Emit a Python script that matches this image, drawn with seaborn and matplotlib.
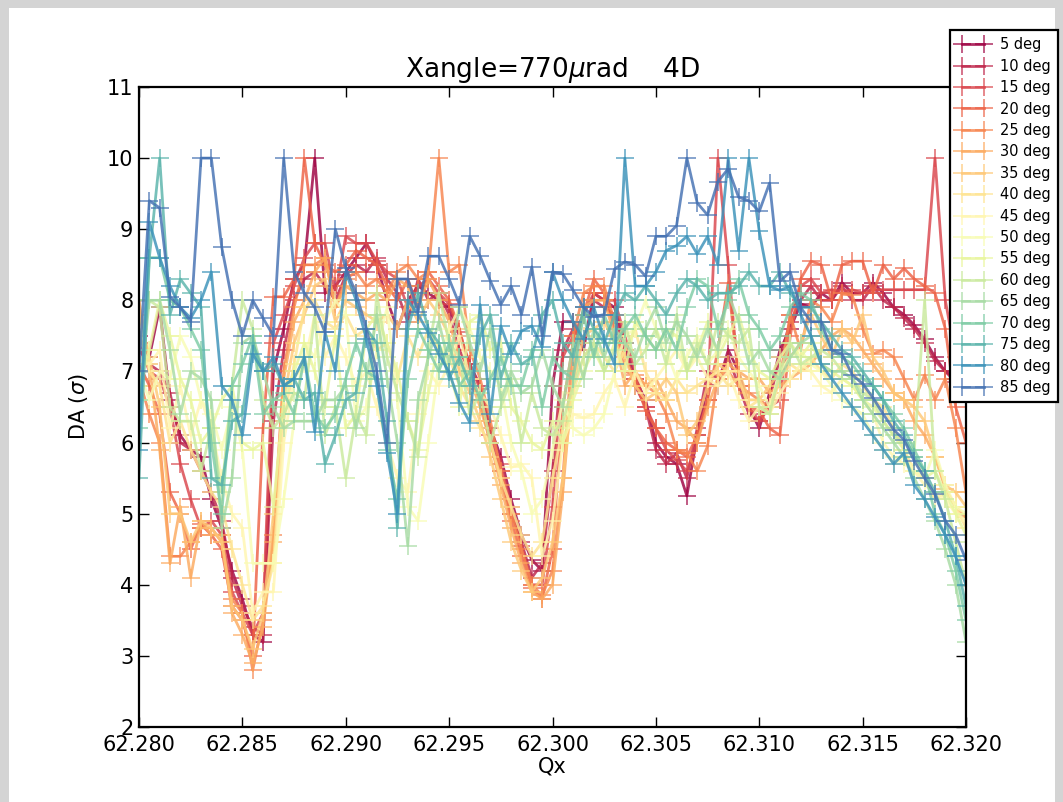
import matplotlib
matplotlib.use("Agg")
import matplotlib.pyplot as plt
import seaborn as sns
from matplotlib.patches import Rectangle

# Tune scan grid (Qx) and crossing-angle labels
qx_start = 62.280
qx_step = 0.0005
n_points = 81
qx = [round(qx_start + qx_step * i, 4) for i in range(n_points)]

angles = [5, 10, 15, 20, 25, 30, 35, 40, 45, 50, 55, 60, 65, 70, 75, 80, 85]

# Dynamic aperture (sigma) for each angle along the Qx scan
da_5 = [7.5, 7.2, 7.9, 6.6, 6.1, 5.9, 5.8, 5.2, 4.8, 4.2,
        3.8, 3.3, 3.2, 7.0, 7.6, 8.3, 8.5, 10.0, 8.1, 8.2,
        8.4, 8.6, 8.8, 8.5, 8.0, 7.6, 8.0, 8.2, 8.1, 8.0,
        7.9, 7.5, 7.1, 6.8, 6.2, 5.8, 5.2, 4.7, 4.35, 4.2,
        6.8, 7.7, 7.7, 7.3, 8.1, 8.0, 7.9, 7.4, 6.9, 6.6,
        6.0, 5.8, 5.7, 5.25, 6.1, 6.8, 6.8, 7.3, 7.0, 6.5,
        6.2, 6.7, 7.3, 7.6, 7.95, 7.9, 8.1, 8.0, 8.25, 8.1,
        8.1, 8.25, 8.1, 7.9, 7.8, 7.65, 7.45, 7.2, 7.0, 6.9,
        6.8]
da_10 = [7.3, 7.1, 7.0, 6.7, 6.0, 5.9, 5.6, 5.3, 4.9, 4.1,
         3.7, 3.4, 3.3, 6.3, 7.3, 8.0, 8.3, 8.4, 8.2, 8.0,
         8.35, 8.5, 8.4, 8.6, 8.3, 8.1, 7.7, 8.3, 8.0, 8.1,
         7.8, 7.3, 7.0, 6.6, 6.0, 5.6, 5.0, 4.6, 4.1, 4.3,
         5.6, 7.3, 7.6, 7.4, 8.0, 7.9, 7.8, 7.3, 6.8, 6.5,
         5.9, 5.7, 5.85, 5.5, 6.2, 7.0, 6.9, 7.2, 6.8, 6.4,
         6.3, 6.6, 7.2, 7.7, 8.0, 8.2, 8.0, 8.0, 8.2, 8.0,
         8.0, 8.2, 8.0, 7.9, 7.75, 7.6, 7.4, 7.15, 7.0, 6.85,
         6.8]
da_15 = [7.4, 7.0, 6.9, 6.5, 5.7, 5.2, 4.8, 4.9, 4.7, 3.9,
         3.6, 3.3, 3.6, 7.4, 7.8, 8.2, 8.6, 8.8, 8.8, 8.1,
         8.9, 8.8, 8.8, 8.55, 8.4, 8.3, 7.9, 8.2, 8.3, 8.1,
         7.95, 7.55, 7.1, 6.75, 6.1, 5.7, 5.1, 4.55, 4.0, 4.0,
         5.1, 7.2, 7.5, 7.8, 8.1, 8.0, 8.0, 7.5, 7.0, 6.5,
         6.2, 5.9, 5.75, 5.6, 6.0, 6.6, 10.0, 8.5, 6.9, 6.5,
         6.3, 6.5, 6.6, 7.8, 8.2, 8.3, 8.1, 8.15, 8.1, 8.15,
         8.1, 8.15, 8.15, 8.15, 8.15, 8.15, 8.15, 10.0, 8.0, 7.2,
         6.9]
da_20 = [7.1, 6.8, 6.4, 5.3, 5.0, 4.5, 4.85, 4.7, 4.5, 3.7,
         3.5, 3.0, 6.2, 8.05, 8.05, 8.3, 10.0, 8.8, 8.5, 8.4,
         8.5, 8.7, 8.6, 8.5, 8.2, 8.0, 8.3, 7.9, 8.4, 8.2,
         8.0, 7.6, 7.0, 6.6, 6.0, 5.5, 4.9, 4.4, 3.95, 3.8,
         4.5, 6.5, 7.4, 7.8, 8.3, 8.1, 7.6, 7.2, 6.9, 6.45,
         6.2, 6.0, 5.9, 5.8, 6.1, 6.6, 7.3, 8.25, 6.9, 6.5,
         6.45, 6.2, 6.1, 7.5, 8.3, 8.55, 8.5, 8.0, 8.5, 8.55,
         8.55, 8.1, 8.5, 8.3, 8.45, 8.3, 8.2, 8.1, 7.6, 6.5,
         6.0]
da_25 = [6.9, 6.4, 6.0, 4.4, 4.4, 4.6, 4.8, 4.8, 4.6, 3.8,
         3.6, 2.8, 3.5, 4.7, 7.0, 7.9, 8.5, 8.5, 8.6, 7.9,
         8.3, 8.4, 8.2, 8.3, 8.1, 8.4, 8.5, 8.3, 8.4, 10.0,
         8.4, 8.5, 7.3, 6.9, 6.3, 5.6, 5.0, 4.5, 4.0, 3.85,
         4.2, 5.5, 7.5, 8.1, 8.2, 8.2, 7.7, 7.0, 6.95, 6.8,
         6.7, 6.4, 5.9, 5.85, 5.6, 5.95, 6.95, 7.0, 6.8, 6.7,
         6.6, 6.5, 6.9, 7.8, 7.3, 8.0, 7.9, 7.7, 8.1, 8.07,
         7.6, 7.25, 7.3, 7.2, 6.9, 6.6, 6.95, 6.6, 6.9, 6.2,
         5.3]
da_30 = [8.0, 7.1, 5.9, 4.3, 5.1, 4.1, 4.9, 4.7, 4.7, 3.6,
         3.3, 2.9, 3.4, 4.6, 6.9, 7.7, 8.0, 8.4, 8.6, 7.9,
         8.2, 8.1, 8.0, 8.1, 8.0, 8.3, 8.2, 7.9, 8.3, 8.0,
         7.7, 7.2, 6.9, 6.5, 6.0, 5.4, 4.8, 4.3, 3.9, 3.8,
         4.0, 5.3, 7.0, 7.9, 8.0, 8.0, 7.5, 6.8, 7.0, 6.8,
         6.9, 6.6, 6.3, 6.2, 6.0, 6.5, 6.9, 7.1, 7.0, 6.9,
         6.9, 6.7, 6.8, 6.9, 7.0, 7.1, 7.3, 7.5, 7.6, 7.5,
         7.3, 7.1, 6.9, 6.7, 6.6, 6.3, 6.1, 5.8, 5.35, 5.1,
         4.95]
da_35 = [7.8, 7.2, 6.5, 5.0, 5.0, 4.6, 4.9, 4.8, 4.6, 3.7,
         3.5, 3.1, 3.6, 5.0, 6.6, 7.4, 7.8, 8.2, 8.3, 7.7,
         8.0, 7.9, 7.8, 7.7, 7.8, 7.6, 8.0, 7.7, 8.0, 7.8,
         7.5, 7.0, 6.7, 6.3, 5.8, 5.2, 4.6, 4.2, 3.9, 4.1,
         4.6, 5.5, 6.8, 7.5, 7.6, 7.7, 7.4, 7.2, 6.8, 6.6,
         6.7, 6.9, 6.7, 6.1, 6.3, 6.8, 7.1, 7.0, 7.0, 6.6,
         6.6, 6.8, 7.0, 7.2, 7.4, 7.8, 7.5, 7.2, 7.6, 7.4,
         7.8, 7.2, 7.0, 6.7, 6.6, 6.5, 6.3, 5.8, 5.4, 5.3,
         5.1]
da_40 = [7.6, 7.0, 6.8, 6.0, 6.3, 5.9, 5.6, 5.3, 5.1, 4.5,
         4.0, 3.5, 3.7, 4.3, 6.3, 7.1, 7.9, 8.0, 7.7, 7.6,
         7.8, 7.5, 7.6, 7.3, 7.4, 6.9, 7.5, 7.2, 7.6, 7.3,
         7.2, 6.8, 6.5, 6.2, 6.0, 5.5, 5.1, 4.7, 4.4, 4.6,
         5.5, 6.2, 6.7, 7.2, 7.4, 7.2, 7.0, 7.3, 7.6, 7.0,
         6.7, 6.6, 6.9, 6.7, 6.8, 6.9, 7.0, 6.8, 6.9, 6.5,
         6.6, 6.4, 6.9, 7.1, 7.0, 7.2, 7.0, 6.9, 7.1, 7.0,
         6.8, 6.6, 6.5, 6.2, 5.9, 5.6, 5.5, 5.2, 5.3, 5.1,
         4.8]
da_45 = [7.2, 7.1, 7.3, 6.2, 6.8, 6.1, 6.6, 6.2, 5.5, 5.0,
         4.8, 3.6, 3.9, 3.9, 6.0, 6.9, 7.1, 7.8, 7.2, 7.5,
         7.2, 6.8, 7.0, 6.5, 6.0, 5.5, 5.3, 6.4, 7.0, 6.8,
         7.1, 7.5, 6.9, 6.7, 6.5, 6.1, 5.65, 5.7, 5.5, 4.4,
         4.9, 6.0, 6.4, 6.35, 6.4, 6.7, 6.9, 6.5, 7.0, 6.7,
         6.9, 7.1, 7.3, 7.0, 7.2, 6.9, 6.8, 7.0, 6.6, 6.3,
         6.5, 6.4, 6.7, 6.9, 7.1, 7.0, 6.8, 6.7, 6.9, 6.8,
         6.6, 6.4, 6.0, 5.8, 5.7, 5.6, 5.4, 5.3, 5.2, 5.0,
         4.9]
da_50 = [7.0, 6.6, 7.0, 6.9, 7.5, 7.2, 6.6, 6.4, 5.9, 6.5,
         5.9, 4.3, 4.3, 4.3, 5.2, 6.3, 7.4, 7.2, 7.7, 8.0,
         7.8, 6.3, 6.5, 7.3, 7.9, 6.6, 5.1, 4.9, 6.0, 7.1,
         7.6, 7.9, 7.6, 7.2, 7.0, 6.8, 6.0, 5.6, 5.0, 5.2,
         5.9, 6.6, 6.2, 6.1, 6.2, 6.4, 7.0, 7.5, 7.6, 8.0,
         7.6, 7.3, 6.9, 7.2, 7.5, 7.1, 7.3, 7.6, 7.2, 7.0,
         6.8, 6.5, 7.0, 7.2, 7.3, 7.1, 7.0, 6.8, 6.6, 6.5,
         6.4, 6.1, 5.9, 5.7, 5.8, 5.6, 5.5, 5.9, 5.4, 5.1,
         5.0]
da_55 = [6.8, 7.3, 8.0, 7.5, 6.9, 6.6, 6.0, 6.2, 6.6, 6.8,
         6.0, 5.9, 6.0, 5.1, 6.6, 7.0, 7.4, 7.0, 6.5, 7.5,
         6.2, 6.4, 7.6, 7.8, 7.4, 7.0, 6.3, 5.9, 6.7, 7.4,
         7.0, 6.5, 7.7, 7.8, 7.3, 7.4, 6.5, 6.3, 6.0, 5.9,
         6.3, 6.0, 6.6, 7.0, 7.3, 7.0, 7.4, 7.0, 7.7, 7.5,
         7.3, 7.6, 7.5, 7.0, 7.3, 7.7, 7.2, 7.5, 7.8, 7.3,
         7.0, 6.9, 7.2, 7.4, 7.2, 7.4, 7.1, 7.0, 6.9, 6.8,
         6.6, 6.5, 6.3, 6.1, 5.9, 5.8, 5.5, 5.6, 5.3, 5.0,
         4.7]
da_60 = [7.3, 8.0, 7.9, 6.5, 6.3, 6.3, 5.6, 6.2, 5.3, 6.8,
         8.0, 7.6, 6.6, 6.2, 6.4, 6.7, 6.6, 7.8, 6.1, 6.5,
         5.5, 6.4, 6.1, 8.1, 7.2, 6.7, 6.3, 5.8, 7.3, 8.1,
         7.4, 7.2, 6.4, 6.7, 6.0, 6.5, 6.9, 6.0, 6.7, 6.2,
         6.1, 6.3, 6.8, 7.2, 7.4, 7.0, 7.3, 7.7, 7.1, 7.3,
         7.6, 7.1, 7.8, 7.0, 7.4, 7.1, 7.7, 7.5, 7.4, 7.6,
         6.5, 6.4, 7.0, 7.4, 7.1, 7.2, 7.3, 7.2, 7.0, 6.9,
         6.7, 6.6, 6.3, 6.1, 6.0, 5.9, 8.0, 5.6, 5.2, 4.6,
         4.0]
da_65 = [6.6, 8.0, 8.0, 7.3, 6.4, 7.0, 6.9, 6.6, 4.8, 5.5,
         7.4, 7.5, 7.0, 6.5, 6.2, 6.3, 6.3, 6.3, 6.6, 6.6,
         6.8, 6.2, 6.9, 7.8, 6.9, 6.0, 4.55, 6.6, 7.2, 7.7,
         7.1, 7.9, 7.4, 7.0, 7.6, 6.6, 7.0, 6.7, 6.8, 7.3,
         6.8, 6.5, 7.4, 6.9, 7.6, 7.2, 7.6, 7.4, 7.2, 7.6,
         7.9, 7.4, 7.7, 7.5, 7.2, 7.6, 7.3, 8.1, 7.7, 7.1,
         7.3, 7.0, 6.9, 7.2, 7.4, 7.5, 7.1, 7.0, 7.0, 6.9,
         6.6, 6.4, 6.2, 6.0, 5.8, 5.5, 5.2, 4.9, 4.5, 4.0,
         3.2]
da_70 = [6.2, 8.6, 8.6, 8.0, 7.9, 7.6, 7.3, 6.0, 5.0, 6.8,
         7.1, 7.5, 6.4, 6.6, 6.7, 6.4, 7.2, 6.4, 6.2, 6.4,
         6.9, 7.4, 7.0, 6.9, 5.9, 5.2, 6.9, 7.6, 7.3, 7.0,
         7.4, 6.8, 7.0, 6.6, 6.9, 7.2, 6.8, 6.8, 7.3, 6.5,
         7.2, 7.0, 6.9, 7.8, 7.2, 7.8, 7.4, 7.6, 7.8, 7.5,
         7.3, 7.6, 7.3, 7.9, 8.3, 8.2, 7.6, 8.0, 8.3, 7.8,
         7.6, 7.3, 7.5, 7.9, 8.1, 8.0, 7.6, 7.3, 7.2, 7.1,
         6.9, 6.8, 6.6, 6.4, 6.2, 5.9, 5.6, 5.0, 4.7, 4.2,
         3.5]
da_75 = [5.5, 8.6, 10.0, 7.8, 8.3, 8.1, 7.9, 5.5, 5.4, 6.3,
         6.4, 7.4, 7.0, 7.1, 6.8, 6.9, 6.6, 6.7, 5.7, 6.1,
         6.6, 6.7, 7.6, 7.4, 6.3, 4.8, 7.6, 8.1, 7.6, 7.4,
         6.9, 7.2, 6.8, 7.5, 7.8, 6.9, 7.4, 7.1, 7.2, 7.8,
         8.0, 7.4, 7.2, 7.9, 7.6, 7.4, 7.8, 8.1, 8.0, 8.2,
         8.0, 7.8, 8.1, 8.3, 8.2, 8.0, 8.1, 8.1, 8.2, 8.4,
         8.2, 8.2, 8.4, 8.1, 7.9, 7.9, 7.7, 7.5, 7.3, 7.2,
         7.0, 6.8, 6.6, 6.3, 6.1, 5.8, 5.6, 5.3, 4.9, 4.4,
         3.7]
da_80 = [5.9, 9.1, 8.6, 8.2, 7.9, 7.75, 8.0, 8.4, 6.8, 6.6,
         6.1, 7.25, 7.0, 7.2, 6.8, 6.9, 7.2, 6.15, 7.55, 7.0,
         8.4, 8.0, 7.45, 6.8, 5.85, 5.0, 8.0, 7.8, 7.54, 7.24,
         6.99, 6.56, 6.28, 7.94, 6.4, 7.64, 7.24, 7.57, 7.64, 7.34,
         8.4, 8.0, 7.7, 7.45, 7.9, 7.45, 7.1, 10.0, 8.2, 8.2,
         8.4, 8.7, 8.77, 8.9, 8.65, 8.9, 8.5, 10.0, 8.7, 10.0,
         8.97, 8.2, 8.14, 8.2, 7.8, 7.5, 7.1, 6.9, 6.7, 6.5,
         6.3, 6.1, 5.9, 5.7, 5.85, 5.4, 5.2, 4.95, 4.7, 4.4,
         4.0]
da_85 = [7.0, 9.4, 9.3, 8.05, 7.9, 7.7, 10.0, 10.0, 8.75, 8.0,
         7.5, 8.0, 7.75, 7.5, 10.0, 8.4, 8.1, 7.9, 7.55, 9.0,
         8.45, 8.1, 7.6, 7.0, 6.0, 8.3, 8.3, 7.84, 8.62, 8.62,
         8.3, 7.94, 8.9, 8.62, 8.27, 7.94, 8.2, 7.8, 8.47, 7.5,
         8.4, 8.37, 8.14, 7.9, 7.77, 7.8, 8.44, 8.54, 8.5, 8.34,
         8.9, 8.9, 9.05, 10.0, 9.37, 9.2, 9.67, 9.85, 9.45, 9.4,
         9.25, 9.65, 8.27, 8.4, 7.9, 7.7, 7.7, 7.3, 7.25, 6.95,
         6.83, 6.63, 6.4, 6.18, 6.04, 5.74, 5.5, 5.27, 4.9, 4.7,
         4.35]

series = [da_5, da_10, da_15, da_20, da_25, da_30, da_35, da_40, da_45,
          da_50, da_55, da_60, da_65, da_70, da_75, da_80, da_85]

xticks = [62.280, 62.285, 62.290, 62.295, 62.300, 62.305, 62.310, 62.315, 62.320]
yticks = [2, 3, 4, 5, 6, 7, 8, 9, 10, 11]

plt.rcParams["font.family"] = ["DejaVu Sans"]
plt.rcParams["mathtext.fontset"] = "dejavusans"

W, H = 1063, 802
fig = plt.figure(figsize=(W / 100, H / 100), dpi=100)
fig.patch.set_facecolor("#d4d4d4")
fig.add_artist(Rectangle((9 / W, 0), (1055 - 9) / W, (H - 8) / H,
                         transform=fig.transFigure, facecolor="white",
                         edgecolor="none", zorder=0))

ax = fig.add_axes([139 / W, 1 - 727 / H, (966 - 139) / W, (727 - 87) / H])
ax.set_facecolor("white")

cmap = matplotlib.colormaps["Spectral"]
for k, (ang, vals) in enumerate(zip(angles, series)):
    col = cmap(k / len(angles))
    sns.lineplot(x=qx, y=vals, ax=ax, color=col, label=f"{ang} deg",
                 marker="+", markersize=13, markeredgewidth=1.1,
                 markeredgecolor=col, linewidth=2.0, alpha=0.82,
                 sort=False, estimator=None, legend=False)

ax.set_xlim(62.280, 62.320)
ax.set_ylim(2, 11)
ax.set_xticks(xticks)
ax.set_xticklabels([f"{t:.3f}" for t in xticks])
ax.set_yticks(yticks)
ax.tick_params(direction="in", top=True, right=True, length=7, width=1,
               labelsize=15, colors="black")
ax.tick_params(axis="x", pad=6)
ax.tick_params(axis="y", pad=4)
for sp in ax.spines.values():
    sp.set_linewidth(1.6)
    sp.set_color("black")

ax.set_title(r"Xangle=770$\mu$rad    4D", fontsize=19, pad=7)
ax.set_xlabel("Qx", fontsize=15, labelpad=1)
ax.set_ylabel(r"DA ($\sigma$)", fontsize=15, labelpad=12)

handles, labels = ax.get_legend_handles_labels()
leg = ax.legend(handles, labels, loc="upper right",
                bbox_to_anchor=(1058 / W, 1 - 30 / H),
                bbox_transform=fig.transFigure, borderaxespad=0,
                fontsize=10.5, numpoints=2, handlelength=2.1,
                labelspacing=0.44, handletextpad=0.8, borderpad=0.5,
                fancybox=False, framealpha=1, edgecolor="black")
leg.get_frame().set_linewidth(1.6)

fig.savefig("out.png", dpi=100, facecolor=fig.get_facecolor())
